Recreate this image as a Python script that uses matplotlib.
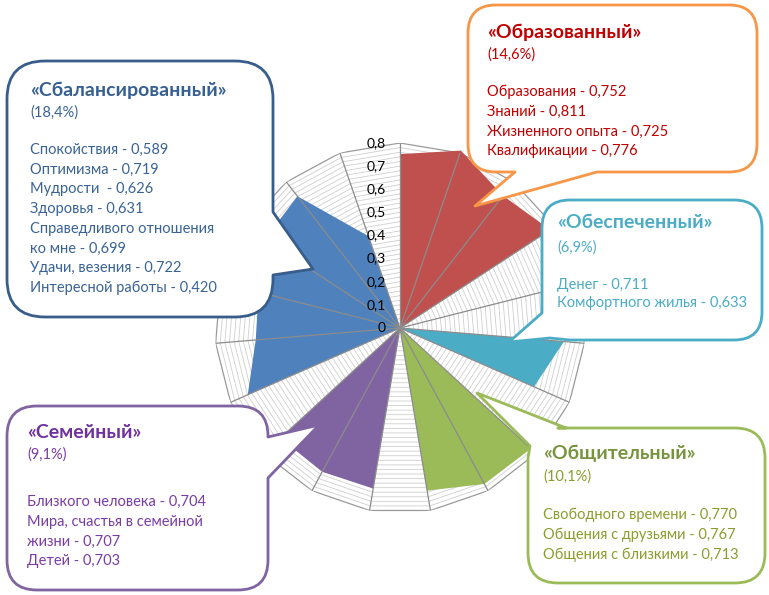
import numpy as np
import matplotlib
matplotlib.use("Agg")
import matplotlib.pyplot as plt
from matplotlib.path import Path
from matplotlib.patches import PathPatch

plt.rcParams['font.family'] = ['Lato', 'Noto Sans', 'DejaVu Sans']

# данные: значения по группам (как в подписях)
edu_labels = ["Образования", "Знаний", "Жизненного опыта", "Квалификации"]
edu_vals = [0.752, 0.811, 0.725, 0.776]
money_labels = ["Денег", "Комфортного жилья"]
money_vals = [0.711, 0.633]
social_labels = ["Свободного времени", "Общения с друзьями", "Общения с близкими"]
social_vals = [0.770, 0.767, 0.713]
family_labels = ["Близкого человека", "Мира, счастья в семейной\nжизни", "Детей"]
family_vals = [0.704, 0.707, 0.703]
bal_labels = ["Спокойствия", "Оптимизма", "Мудрости ", "Здоровья", "Справедливого отношения\nко мне",
              "Удачи, везения", "Интересной работы"]
bal_vals = [0.589, 0.719, 0.626, 0.631, 0.699, 0.722, 0.420]

group_names = ["«Образованный»", "«Обеспеченный»", "«Общительный»", "«Семейный»", "«Сбалансированный»"]
group_shares = ["(14,6%)", "(6,9%)", "(10,1%)", "(9,1%)", "(18,4%)"]

# номера осей лепестковой диаграммы для каждого значения
n_spokes = 19
edu_spokes = [0, 1, 2, 3]
money_spokes = [5, 6]
social_spokes = [7, 8, 9]
family_spokes = [10, 11, 12]
bal_spokes = [None, 13, 14, 15, 16, 17, 18]

fill_colors = ["#C0504D", "#4BACC6", "#9BBB59", "#8064A2", "#4F81BD"]

W, H = 769, 595
fig = plt.figure(figsize=(W / 100, H / 100), dpi=100)

cx, cy, rad = 400, 328, 185
ax = fig.add_axes([(cx - rad) / W, 1 - (cy + rad) / H, 2 * rad / W, 2 * rad / H], projection='polar')
ax.set_theta_zero_location('N')
ax.set_theta_direction(-1)
ax.set_ylim(0, 0.8)
ax.set_axis_off()

theta = np.linspace(0, 2 * np.pi, n_spokes, endpoint=False)
theta_c = np.append(theta, theta[0])

# сетка
for r in np.arange(0.02, 0.8001, 0.02):
    last = abs(r - 0.8) < 1e-6
    ax.plot(theta_c, [r] * len(theta_c), color="#9A9A9A" if last else "#CFCFCF",
            lw=0.9 if last else 0.6, zorder=1)

series = [(edu_vals, edu_spokes), (money_vals, money_spokes), (social_vals, social_spokes),
          (family_vals, family_spokes), (bal_vals, bal_spokes)]
for (vals, spokes), col in zip(series, fill_colors):
    rr = np.zeros(n_spokes)
    for v, s in zip(vals, spokes):
        if s is not None:
            rr[s] = v
    ax.fill(theta_c, np.append(rr, rr[0]), color=col, lw=0, zorder=2, clip_on=False)

for t in theta:
    ax.plot([t, t], [0, 0.8], color="#8C8C8C", lw=0.9, zorder=3)

for v in np.arange(0, 0.81, 0.1):
    lbl = "0" if v == 0 else f"{v:.1f}".replace(".", ",")
    ax.annotate(lbl, xy=(0, v), xytext=(-14, 0), textcoords='offset pixels',
                ha='right', va='center', fontsize=10, color="black", zorder=4)

# выноски
ov = fig.add_axes([0, 0, 1, 1])
ov.set_xlim(0, W)
ov.set_ylim(H, 0)
ov.axis('off')


def bubble(x0, y0, x1, y1, r, side, tail, edge):
    V = [(x0 + r, y0)]
    C = [Path.MOVETO]

    def add_tail(name):
        if side == name:
            V.extend(tail)
            C.extend([Path.LINETO] * len(tail))

    def corner(name, ctrl, end):
        if side == name:
            add_tail(name)
            V.append(end)
            C.append(Path.LINETO)
        else:
            V.extend([ctrl, end])
            C.extend([Path.CURVE3, Path.CURVE3])

    add_tail('top')
    V.append((x1 - r, y0)); C.append(Path.LINETO)
    corner('tr', (x1, y0), (x1, y0 + r))
    add_tail('right')
    V.append((x1, y1 - r)); C.append(Path.LINETO)
    corner('br', (x1, y1), (x1 - r, y1))
    add_tail('bottom')
    V.append((x0 + r, y1)); C.append(Path.LINETO)
    corner('bl', (x0, y1), (x0, y1 - r))
    add_tail('left')
    V.append((x0, y0 + r)); C.append(Path.LINETO)
    corner('tl', (x0, y0), (x0 + r, y0))
    V.append((x0 + r, y0)); C.append(Path.CLOSEPOLY)
    ov.add_patch(PathPatch(Path(V, C), facecolor="white", edgecolor=edge, lw=2.0, joinstyle='round'))


def box_text(x, y_title, y_share, y_lines, title, share, labels, vals, tcol, bcol, step=19.7):
    ov.text(x, y_title, title, fontsize=14, fontweight='bold', color=tcol, va='center', ha='left')
    ov.text(x, y_share, share, fontsize=10.5, color=bcol, va='center', ha='left')
    y = y_lines
    for lbl, v in zip(labels, vals):
        parts = f"{lbl} - {v:.3f}".replace(".", ",").split("\n")
        for p in parts:
            ov.text(x, y, p, fontsize=10.5, color=bcol, va='center', ha='left')
            y += step


# «Образованный»
bubble(468, 5, 757, 172, 28, 'bottom', [(597, 172), (475, 206), (515, 172)], "#F79646")
box_text(487, 32, 55, 92, group_names[0], group_shares[0], edu_labels, edu_vals, "#C00000", "#C00000")

# «Обеспеченный»
bubble(542, 200, 762, 340, 28, 'bl', [(550, 338), (509, 342), (542, 313)], "#4BACC6")
box_text(557, 223, 248, 285, group_names[1], group_shares[1], money_labels, money_vals, "#4BACC6", "#4BACC6",
         step=18.5)

# «Общительный»
bubble(528, 428, 765, 583, 30, 'tl', [(530, 446), (477, 393), (566, 428)], "#9BBB59")
box_text(543, 453, 477, 515, group_names[2], group_shares[2], social_labels, social_vals, "#77933C", "#8A9E2E")

# «Семейный»
bubble(7, 406, 268, 590, 30, 'right', [(268, 437), (319, 425), (268, 478)], "#8064A2")
box_text(27, 433, 455, 502, group_names[3], group_shares[3], family_labels, family_vals, "#7030A0", "#7A3CA6")

# «Сбалансированный»
bubble(7, 61, 273, 317, 38, 'right', [(273, 212), (313, 269), (273, 275)], "#385D8A")
box_text(30, 90, 113, 150, group_names[4], group_shares[4], bal_labels, bal_vals, "#366092", "#3A6395")

fig.savefig("out.png", dpi=100)
